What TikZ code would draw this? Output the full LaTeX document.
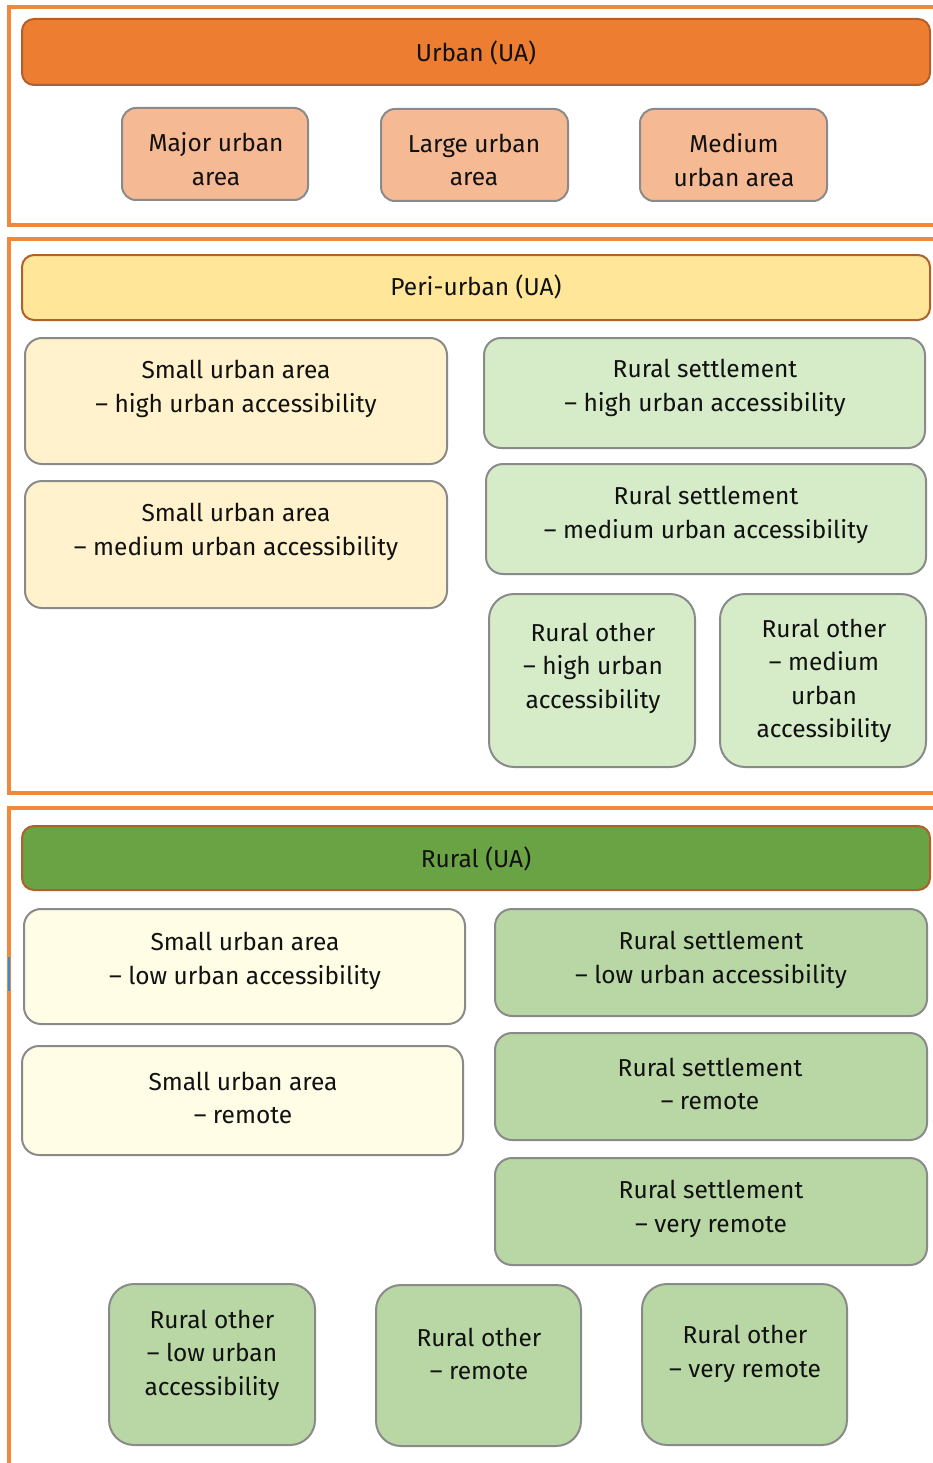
\documentclass[tikz,border=0pt]{standalone}
\usepackage{fontspec}
\setmainfont{Fira Sans}
\definecolor{frameor}{HTML}{F08A3A}
\definecolor{barbord}{HTML}{B0602A}
\definecolor{urbanbar}{HTML}{ED7D31}
\definecolor{urbanbox}{HTML}{F5BA94}
\definecolor{peribar}{HTML}{FFE699}
\definecolor{periyel}{HTML}{FFF2CC}
\definecolor{perigrn}{HTML}{D6ECC9}
\definecolor{ruralbar}{HTML}{6AA343}
\definecolor{ruryel}{HTML}{FFFDE6}
\definecolor{rurgrn}{HTML}{B8D7A5}
\definecolor{boxbord}{HTML}{8A8A8A}
\definecolor{txt}{HTML}{111111}
\definecolor{bluemark}{HTML}{2E8FD8}
\newcommand{\mybox}[9]{%
  \node[#6, minimum width={(#4-#2)*1pt}, minimum height={(#5-#3)*1pt}] (#1) at ({(#2+#4)/2},{(#3+#5)/2}) {};
  \node[lbl] (#1t) at (#7,#8) {#9};}
\tikzset{
  frameline/.style={draw=frameor, line width=3.2pt},
  bar/.style={draw=barbord, line width=2pt, rounded corners=12pt, inner sep=0pt},
  sbox/.style={draw=boxbord, line width=2pt, rounded corners=17pt, inner sep=0pt},
  obox/.style={draw=boxbord, line width=2pt, rounded corners=25pt, inner sep=0pt},
  lbl/.style={text=txt, align=center, inner sep=0pt, font=\fontsize{24.5}{33.5}\selectfont},
}
\begin{document}
\begin{tikzpicture}[x=1pt,y=-1pt]
\useasboundingbox (0,0) rectangle (933,1463);
% frames
\draw[frameline] (934,7) -- (9,7) -- (9,225) -- (934,225);
\draw[frameline] (934,239) -- (9,239) -- (9,793) -- (934,793);
\draw[frameline] (934,808) -- (9,808) -- (9,1464);
\coordinate (bm1) at (9,957);
\coordinate (bm2) at (9,991);
\draw[bluemark, line width=2.6pt] (bm1) -- (bm2);
% Urban
\mybox{ua}{22}{19}{930}{85}{bar, fill=urbanbar}{476}{53}{Urban (UA)}
\mybox{maj}{122}{108}{308}{200}{sbox, fill=urbanbox, rounded corners=14pt}{216}{159}{Major urban\\area}
\mybox{lar}{381}{109}{568}{201}{sbox, fill=urbanbox, rounded corners=14pt}{474}{160}{Large urban\\area}
\mybox{med}{640}{109}{827}{201}{sbox, fill=urbanbox, rounded corners=14pt}{734}{160}{Medium\\urban area}
% Peri-urban
\mybox{pu}{22}{255}{930}{320}{bar, fill=peribar}{476}{287}{Peri-urban (UA)}
\mybox{suh}{25}{338}{447}{464}{sbox, fill=periyel}{236}{389}{Small urban area\\– high urban accessibility}
\mybox{sum}{25}{481}{447}{608}{sbox, fill=periyel}{236}{532}{Small urban area\\– medium urban accessibility}
\mybox{rsh}{484}{338}{925}{448}{sbox, fill=perigrn}{705}{388}{Rural settlement\\– high urban accessibility}
\mybox{rsm}{486}{464}{926}{574}{sbox, fill=perigrn}{706}{515}{Rural settlement\\– medium urban accessibility}
\mybox{roh}{489}{594}{695}{767}{obox, fill=perigrn}{593}{668}{Rural other\\– high urban\\accessibility}
\mybox{rom}{720}{594}{926}{767}{obox, fill=perigrn}{824}{681}{Rural other\\– medium\\urban\\accessibility}
% Rural
\mybox{ru}{22}{826}{930}{890}{bar, fill=ruralbar}{476}{859}{Rural (UA)}
\mybox{sul}{24}{909}{465}{1024}{sbox, fill=ruryel}{245}{961}{Small urban area\\– low urban accessibility}
\mybox{sur}{22}{1046}{463}{1155}{sbox, fill=ruryel}{243}{1098}{Small urban area\\– remote}
\mybox{rsl}{495}{909}{927}{1016}{sbox, fill=rurgrn}{711}{960}{Rural settlement\\– low urban accessibility}
\mybox{rsr}{495}{1033}{927}{1140}{sbox, fill=rurgrn}{710}{1084}{Rural settlement\\– remote}
\mybox{rsv}{495}{1158}{927}{1265}{sbox, fill=rurgrn}{711}{1209}{Rural settlement\\– very remote}
\mybox{rol}{109}{1284}{315}{1445}{obox, fill=rurgrn}{212}{1355}{Rural other\\– low urban\\accessibility}
\mybox{ror}{376}{1285}{581}{1446}{obox, fill=rurgrn}{479}{1354}{Rural other\\– remote}
\mybox{rov}{642}{1284}{847}{1445}{obox, fill=rurgrn}{745}{1354}{Rural other\\– very remote}
\end{tikzpicture}
\end{document}
